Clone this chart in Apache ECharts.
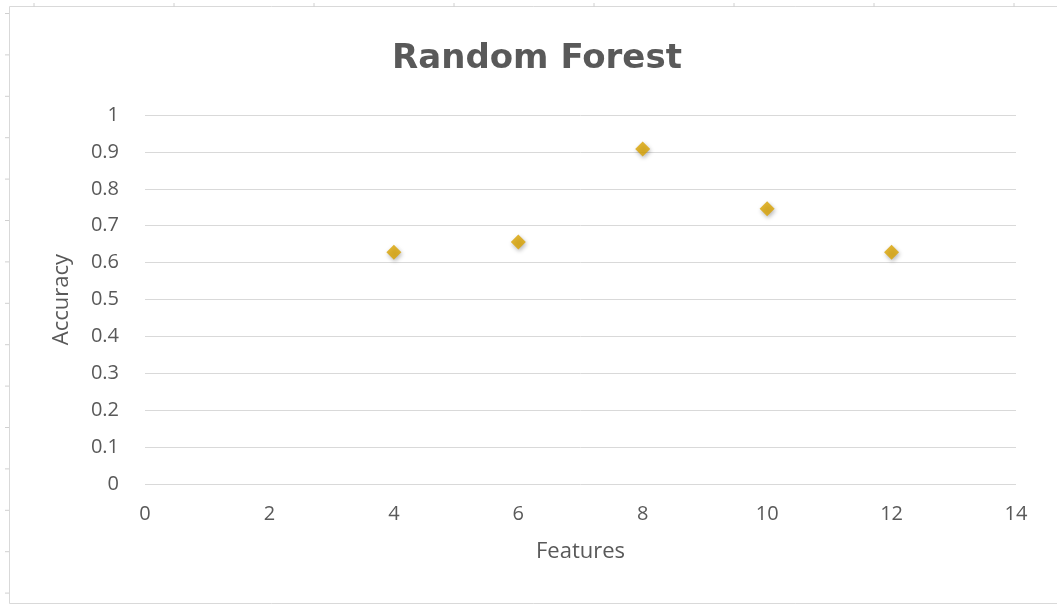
<!DOCTYPE html>
<html>
<head>
<meta charset="utf-8">
<script src="https://cdn.jsdelivr.net/npm/echarts@6/dist/echarts.min.js"></script>
<style>
  html, body { margin: 0; padding: 0; background: #ffffff; }
  #chart { width: 1057px; height: 604px; }
</style>
</head>
<body>
<div id="chart"></div>
<script>
// Random Forest accuracy by number of features
const features = [4, 6, 8, 10, 12];
const accuracy = [0.628, 0.656, 0.908, 0.746, 0.628];

const xTicks = { min: 0, max: 14, interval: 2 };
const yTicks = { min: 0, max: 1, interval: 0.1 };

const textColor = '#595959';
const gridColor = '#d9d9d9';
const fontFamily = '"Open Sans", "Noto Sans", sans-serif';

const chart = echarts.init(document.getElementById('chart'), null, { renderer: 'canvas' });

// Sheet ruler marks around the chart frame
const frameMarks = [];
for (let x = 34; x < 1057; x += 140) {
  frameMarks.push({ type: 'line', shape: { x1: x, y1: 3, x2: x, y2: 7 }, style: { stroke: '#d0d0d0', lineWidth: 1 }, silent: true });
}
for (let y = 13.5; y < 604; y += 41.4) {
  frameMarks.push({ type: 'line', shape: { x1: 5, y1: y, x2: 9, y2: y }, style: { stroke: '#d0d0d0', lineWidth: 1 }, silent: true });
}

chart.setOption({
  backgroundColor: '#ffffff',
  animation: false,
  title: {
    text: 'Random Forest',
    left: 532,
    top: 37,
    textAlign: 'center',
    textStyle: { color: textColor, fontSize: 34, fontWeight: 'bold', fontFamily: '"DejaVu Sans", sans-serif' }
  },
  graphic: [
    {
      type: 'polyline',
      shape: { points: [[1057, 6.5], [9.5, 6.5], [9.5, 603.5], [1057, 603.5]] },
      style: { stroke: '#d9d9d9', lineWidth: 1, fill: null },
      silent: true
    }
  ].concat(frameMarks),
  grid: { left: 145, right: 41, top: 115, bottom: 120, containLabel: false },
  xAxis: {
    type: 'value',
    min: xTicks.min, max: xTicks.max, interval: xTicks.interval,
    name: 'Features',
    nameLocation: 'middle',
    nameGap: 57,
    nameTextStyle: { color: textColor, fontSize: 22, fontFamily: fontFamily },
    axisLine: { show: false },
    axisTick: { show: false },
    splitLine: { show: false },
    axisLabel: { color: textColor, fontSize: 20, fontFamily: fontFamily, margin: 20 }
  },
  yAxis: {
    type: 'value',
    min: yTicks.min, max: yTicks.max, interval: yTicks.interval,
    name: 'Accuracy',
    nameLocation: 'middle',
    nameGap: 72,
    nameRotate: 90,
    nameTextStyle: { color: textColor, fontSize: 22, fontFamily: fontFamily },
    axisLine: { show: false },
    axisTick: { show: false },
    splitLine: { show: true, lineStyle: { color: gridColor, width: 1 } },
    axisLabel: {
      color: textColor, fontSize: 20, fontFamily: fontFamily, margin: 26,
      formatter: v => String(Math.round(v * 10) / 10)
    }
  },
  series: [{
    type: 'scatter',
    symbol: 'diamond',
    symbolSize: [15, 15],
    data: features.map((f, i) => [f, accuracy[i]]),
    itemStyle: {
      color: '#d9a300',
      shadowColor: 'rgba(0,0,0,0.35)',
      shadowBlur: 4,
      shadowOffsetX: 1,
      shadowOffsetY: 2
    }
  }]
});
</script>
</body>
</html>
